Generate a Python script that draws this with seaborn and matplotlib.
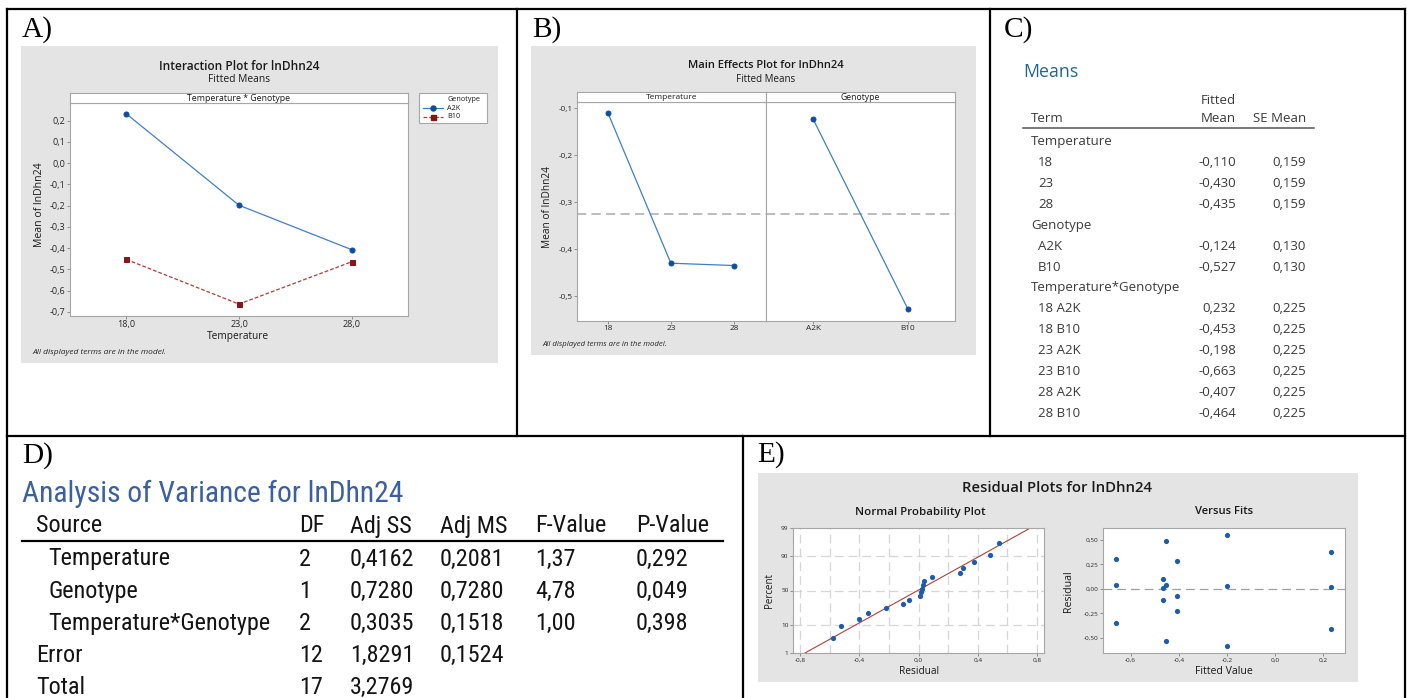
import numpy as np
import pandas as pd
import matplotlib
matplotlib.use("Agg")
import matplotlib.pyplot as plt
import seaborn as sns
from matplotlib import font_manager
from matplotlib.lines import Line2D
from matplotlib.patches import Rectangle
from matplotlib.ticker import FixedLocator, FuncFormatter

# ---------------- data ----------------
temp_levels = ["18", "23", "28"]
temp_fitted_mean = [-0.110, -0.430, -0.435]
temp_se_mean = [0.159, 0.159, 0.159]

geno_levels = ["A2K", "B10"]
geno_fitted_mean = [-0.124, -0.527]
geno_se_mean = [0.130, 0.130]

inter_terms = ["18 A2K", "18 B10", "23 A2K", "23 B10", "28 A2K", "28 B10"]
inter_fitted_mean = [0.232, -0.453, -0.198, -0.663, -0.407, -0.464]
inter_se_mean = [0.225, 0.225, 0.225, 0.225, 0.225, 0.225]

grand_mean = -0.325

anova_source = ["Temperature", "Genotype", "Temperature*Genotype", "Error", "Total"]
anova_indent = [True, True, True, False, False]
anova_df = [2, 1, 2, 12, 17]
anova_adj_ss = [0.4162, 0.7280, 0.3035, 1.8291, 3.2769]
anova_adj_ms = [0.2081, 0.7280, 0.1518, 0.1524, None]
anova_f = [1.37, 4.78, 1.00, None, None]
anova_p = [0.292, 0.049, 0.398, None, None]

fitted_values = [-0.663, -0.663, -0.663, -0.464, -0.464, -0.464,
                 -0.453, -0.453, -0.453, -0.407, -0.407, -0.407,
                 -0.198, -0.198, -0.198, 0.232, 0.232, 0.232]
residuals = [0.310, 0.041, -0.347, 0.099, 0.010, -0.109,
             0.493, 0.038, -0.531, 0.289, -0.068, -0.221,
             0.551, 0.031, -0.585, 0.381, 0.020, -0.405]

npp_residual = [-0.580, -0.520, -0.400, -0.344, -0.218, -0.106, -0.067, 0.009, 0.016,
                0.024, 0.031, 0.038, 0.094, 0.279, 0.303, 0.375, 0.481, 0.546]
npp_percent = [3.8, 9.2, 14.7, 20.1, 25.5, 31.0, 36.4, 41.8, 47.3,
               52.7, 58.2, 63.6, 69.0, 74.5, 79.9, 85.3, 90.8, 96.2]
npp_line_residual = [-0.766, 0.755]
npp_line_percent = [1, 99]

# ---------------- fonts / helpers ----------------
def has_font(name):
    try:
        font_manager.findfont(font_manager.FontProperties(family=name), fallback_to_default=False)
        return True
    except Exception:
        return False


def first_font(names, default):
    for n in names:
        if has_font(n):
            return n
    return default


SANS = first_font(["Open Sans", "Noto Sans"], "DejaVu Sans")
NARROW = first_font(["Roboto Condensed", "Open Sans Condensed", "Noto Sans Condensed",
                     "Liberation Sans Narrow", "Arial Narrow", "DejaVu Sans Condensed"], SANS)
SERIF = first_font(["Liberation Serif"], "DejaVu Serif")
plt.rcParams["font.family"] = [SANS, "DejaVu Sans"]
plt.rcParams["axes.unicode_minus"] = False

W, H = 1407, 698
fig = plt.figure(figsize=(W / 100, H / 100), dpi=100)
fig.patch.set_facecolor("white")
rend = fig.canvas.get_renderer()

GREY = "#E4E4E4"
FRAME = "#A6A6A6"
BLUE_L = "#3F7FC8"
BLUE_D = "#0E4D9F"
RED_L = "#B23A3A"
RED_D = "#8E1414"
PT = "#1E5BAA"


def fx(x):
    return x / W


def fy(y):
    return 1 - y / H


def R(x0, y0, x1, y1):
    return [x0 / W, 1 - y1 / H, (x1 - x0) / W, (y1 - y0) / H]


def size_for(s, w, **kw):
    t = fig.text(0, 0, s, fontsize=10, **kw)
    bb = t.get_window_extent(renderer=rend)
    t.remove()
    return 10 * w / bb.width


def T(x, y, s, ha="left", va="center", **kw):
    return fig.text(fx(x), fy(y), s, ha=ha, va=va, **kw)


def comma(v, nd):
    v = round(v, nd)
    if v == 0:
        v = 0.0
    return f"{v:.{nd}f}".replace(".", ",")


def grey_box(x0, y0, x1, y1, fc=GREY, ec="none", lw=0, z=-5):
    fig.add_artist(Rectangle((fx(x0), fy(y1)), (x1 - x0) / W, (y1 - y0) / H,
                             transform=fig.transFigure, facecolor=fc, edgecolor=ec,
                             linewidth=lw, zorder=z))


def style_axis(ax, size):
    ax.set_facecolor("white")
    ax.tick_params(axis="both", which="both", direction="out", length=2.0, width=0.6,
                   color="#7F7F7F", labelsize=size, labelcolor="#262626", pad=1.2)
    for sp in ax.spines.values():
        sp.set_color(FRAME)
        sp.set_linewidth(0.8)
    ax.set_xlabel("")
    ax.set_ylabel("")


def strip(x0, y0, x1, y1, label, size):
    s = fig.add_axes(R(x0, y0, x1, y1))
    s.set_facecolor("white")
    s.set_xticks([])
    s.set_yticks([])
    for sp in s.spines.values():
        sp.set_color(FRAME)
        sp.set_linewidth(0.8)
    s.text(0.5, 0.45, label, ha="center", va="center", fontsize=size, color="#1A1A1A",
           transform=s.transAxes)
    return s


def border(xs, ys):
    fig.add_artist(Line2D([fx(x) for x in xs], [fy(y) for y in ys], color="black",
                          lw=1.6, solid_capstyle="projecting", zorder=10))


# ---------------- panel borders and letters ----------------
border([6.5, 1405], [9, 9])
border([6.5, 6.5], [9, 698])
border([1405, 1405], [9, 698])
border([6.5, 1405], [436, 436])
border([517, 517], [9, 436])
border([990, 990], [9, 436])
border([743, 743], [436, 698])

let_size = size_for("A)", 31, family=SERIF)
for lx, ly, lab in [(22, 30, "A)"), (532, 30, "B)"), (1004, 30, "C)"),
                    (22, 456, "D)"), (757, 455, "E)")]:
    T(lx, ly, lab, family=SERIF, fontsize=let_size, color="black")

# ---------------- Panel A: interaction plot ----------------
grey_box(21, 46, 498, 363)
T(239, 67, "Interaction Plot for lnDhn24", ha="center", weight="semibold",
  fontsize=size_for("Interaction Plot for lnDhn24", 160, weight="semibold"), color="#1A1A1A")
T(239, 80, "Fitted Means", ha="center",
  fontsize=size_for("Fitted Means", 62), color="#1A1A1A")

rows = []
for term, m in zip(inter_terms, inter_fitted_mean):
    t, g = term.split()
    rows.append({"Temperature": float(t), "Genotype": g, "Mean": m})
df_int = pd.DataFrame(rows)

axA = fig.add_axes(R(70, 103, 408, 316))
line_styles = {
    "A2K": dict(color=BLUE_L, marker="o", mfc=BLUE_D, mec=BLUE_D, linestyle="-"),
    "B10": dict(color=RED_L, marker="s", mfc=RED_D, mec=RED_D, linestyle=(0, (3, 1.6))),
}
for g in geno_levels:
    sub = df_int[df_int["Genotype"] == g]
    sns.lineplot(data=sub, x="Temperature", y="Mean", ax=axA, markersize=3.6,
                 linewidth=0.9, legend=False, **line_styles[g])
axA.set_xlim(15.5, 30.5)
axA.set_ylim(-0.719, 0.283)
axA.xaxis.set_major_locator(FixedLocator([18, 23, 28]))
axA.xaxis.set_major_formatter(FuncFormatter(lambda v, p: comma(v, 1)))
axA.yaxis.set_major_locator(FixedLocator([-0.7, -0.6, -0.5, -0.4, -0.3, -0.2, -0.1, 0.0, 0.1, 0.2]))
axA.yaxis.set_major_formatter(FuncFormatter(lambda v, p: comma(v, 1)))
tickA = size_for("-0,7", 15.5)
style_axis(axA, tickA)
strip(70, 93, 408, 103, "Temperature * Genotype", size_for("Temperature * Genotype", 103))
T(238, 337, "Temperature", ha="center", fontsize=size_for("Temperature", 62), color="#1A1A1A")
yl_size = size_for("Mean of lnDhn24", 84)
T(39, 205, "Mean of lnDhn24", ha="center", rotation=90, fontsize=yl_size, color="#1A1A1A")
T(32, 352, "All displayed terms are in the model.", style="italic",
  fontsize=size_for("All displayed terms are in the model.", 135, style="italic"), color="#262626")

# legend
grey_box(419, 93, 487, 123, fc="white", ec=FRAME, lw=0.8, z=5)
leg_size = size_for("Genotype", 33)
T(447, 99.5, "Genotype", fontsize=leg_size, color="#1A1A1A", zorder=6)
for ly, g in [(108, "A2K"), (116.5, "B10")]:
    st = line_styles[g]
    fig.add_artist(Line2D([fx(423), fx(433), fx(443)], [fy(ly)] * 3, color=st["color"],
                          linestyle=st["linestyle"], lw=0.9, marker=st["marker"], markevery=[1],
                          ms=3.6, mfc=st["mfc"], mec=st["mec"], zorder=6))
    T(447, ly, g, fontsize=leg_size, color="#1A1A1A", zorder=6)

# ---------------- Panel B: main effects ----------------
grey_box(531, 46, 976, 355)
T(766, 66, "Main Effects Plot for lnDhn24", ha="center", weight="semibold",
  fontsize=size_for("Main Effects Plot for lnDhn24", 156, weight="semibold"), color="#1A1A1A")
T(766, 79, "Fitted Means", ha="center", fontsize=size_for("Fitted Means", 59), color="#1A1A1A")

axB1 = fig.add_axes(R(577, 102, 766, 321))
axB2 = fig.add_axes(R(766, 102, 955, 321))
sns.pointplot(x=temp_levels, y=temp_fitted_mean, ax=axB1, color=BLUE_L, markersize=3.6,
              linewidth=0.9, errorbar=None)
sns.pointplot(x=geno_levels, y=geno_fitted_mean, ax=axB2, color=BLUE_L, markersize=3.6,
              linewidth=0.9, errorbar=None)
tickB = size_for("A2K", 15)
for ax, xl in [(axB1, (-0.49, 2.51)), (axB2, (-0.5, 1.5))]:
    for ln in ax.lines:
        ln.set_markerfacecolor(BLUE_D)
        ln.set_markeredgecolor(BLUE_D)
    ax.axhline(grand_mean, color="#A9A9A9", lw=1.1, dashes=(6, 3.5), zorder=0)
    ax.set_xlim(*xl)
    ax.set_ylim(-0.553, -0.087)
    style_axis(ax, tickB)
axB1.yaxis.set_major_locator(FixedLocator([-0.5, -0.4, -0.3, -0.2, -0.1]))
axB1.yaxis.set_major_formatter(FuncFormatter(lambda v, p: comma(v, 1)))
axB2.set_yticks([])
strip(577, 92, 766, 102, "Temperature", size_for("Temperature", 51))
strip(766, 92, 955, 102, "Genotype", size_for("Genotype", 39))
T(548, 207, "Mean of lnDhn24", ha="center", rotation=90,
  fontsize=size_for("Mean of lnDhn24", 81), color="#1A1A1A")
T(542, 344, "All displayed terms are in the model.", style="italic",
  fontsize=size_for("All displayed terms are in the model.", 125, style="italic"), color="#262626")

# ---------------- Panel C: means table ----------------
C_COL = "#3A3A3A"
T(1023, 72, "Means", color="#22668F", fontsize=size_for("Means", 55))
c_size = size_for("Temperature*Genotype", 148)
T(1236, 100, "Fitted", ha="right", fontsize=c_size, color=C_COL)
T(1031, 119, "Term", fontsize=c_size, color=C_COL)
T(1236, 119, "Mean", ha="right", fontsize=c_size, color=C_COL)
T(1306, 119, "SE Mean", ha="right", fontsize=c_size, color=C_COL)
fig.add_artist(Line2D([fx(1023), fx(1314)], [fy(128), fy(128)], color="#555555", lw=1.1))

c_rows = [("Temperature", None, None, False)]
c_rows += [(t, m, s, True) for t, m, s in zip(temp_levels, temp_fitted_mean, temp_se_mean)]
c_rows += [("Genotype", None, None, False)]
c_rows += [(t, m, s, True) for t, m, s in zip(geno_levels, geno_fitted_mean, geno_se_mean)]
c_rows += [("Temperature*Genotype", None, None, False)]
c_rows += [(t, m, s, True) for t, m, s in zip(inter_terms, inter_fitted_mean, inter_se_mean)]
for i, (lab, m, s, sub) in enumerate(c_rows):
    y = 142 + i * 20.85
    T(1038 if sub else 1031, y, lab, fontsize=c_size, color=C_COL)
    if m is not None:
        T(1236, y, comma(m, 3), ha="right", fontsize=c_size, color=C_COL)
        T(1306, y, comma(s, 3), ha="right", fontsize=c_size, color=C_COL)

# ---------------- Panel D: ANOVA table ----------------
T(22, 494, "Analysis of Variance for lnDhn24", color="#3A5FA3", family=NARROW,
  fontsize=size_for("Analysis of Variance for lnDhn24", 380, family=NARROW))
d_size = size_for("Temperature*Genotype", 220, family=NARROW)
DK = "#141414"
hdr_y = 526
T(36, hdr_y, "Source", fontsize=d_size, family=NARROW, color=DK)
T(299, hdr_y, "DF", fontsize=d_size, family=NARROW, color=DK)
col_x = [350, 440, 535, 636]
for x, lab in zip(col_x, ["Adj SS", "Adj MS", "F-Value", "P-Value"]):
    T(x, hdr_y, lab, fontsize=d_size, family=NARROW, color=DK)
fig.add_artist(Line2D([fx(22), fx(723)], [fy(541), fy(541)], color="black", lw=1.6))
for i, src in enumerate(anova_source):
    y = 559 + i * 32.2
    T(48 if anova_indent[i] else 36, y, src, fontsize=d_size, family=NARROW, color=DK)
    T(299, y, str(anova_df[i]), fontsize=d_size, family=NARROW, color=DK)
    vals = [anova_adj_ss[i], anova_adj_ms[i], anova_f[i], anova_p[i]]
    for x, v, nd in zip(col_x, vals, [4, 4, 2, 3]):
        if v is not None:
            T(x, y, comma(v, nd), fontsize=d_size, family=NARROW, color=DK)

# ---------------- Panel E: residual plots ----------------
grey_box(758, 473, 1358, 682)
T(1057, 488, "Residual Plots for lnDhn24", ha="center", weight="semibold",
  fontsize=size_for("Residual Plots for lnDhn24", 189, weight="semibold"), color="#1A1A1A")
T(920, 512, "Normal Probability Plot", ha="center", weight="semibold",
  fontsize=size_for("Normal Probability Plot", 129, weight="semibold"), color="#1A1A1A")
T(1224, 512, "Versus Fits", ha="center", weight="semibold",
  fontsize=size_for("Versus Fits", 58, weight="semibold"), color="#1A1A1A")


def _erf(x):
    x = np.asarray(x, dtype=float)
    sgn = np.sign(x)
    a = np.abs(x)
    t = 1.0 / (1.0 + 0.3275911 * a)
    y = 1 - (((((1.061405429 * t - 1.453152027) * t) + 1.421413741) * t - 0.284496736) * t
             + 0.254829592) * t * np.exp(-a * a)
    return sgn * y


def ncdf(z):
    return 0.5 * (1 + _erf(np.asarray(z, dtype=float) / np.sqrt(2)))


def nppf(p):
    p = np.clip(np.asarray(p, dtype=float), 1e-9, 1 - 1e-9)
    lo = np.full(p.shape, -8.0)
    hi = np.full(p.shape, 8.0)
    for _ in range(60):
        mid = 0.5 * (lo + hi)
        below = ncdf(mid) < p
        lo = np.where(below, mid, lo)
        hi = np.where(below, hi, mid)
    return 0.5 * (lo + hi)


axN = fig.add_axes(R(793, 528, 1044, 653))
for gx in [-0.8, -0.6, -0.4, -0.2, 0.0, 0.2, 0.4, 0.6, 0.8]:
    axN.axvline(gx, color="#D6D6D6", lw=0.9, dashes=(7, 4), zorder=0)
sns.lineplot(x=npp_line_residual, y=npp_line_percent, ax=axN, color="#B0403A", lw=0.8,
             zorder=2, legend=False)
sns.scatterplot(x=npp_residual, y=npp_percent, ax=axN, color=PT, s=14, linewidth=0,
                zorder=3, legend=False)
axN.set_yscale("function", functions=(lambda p: nppf(np.asarray(p) / 100.0),
                                      lambda z: ncdf(z) * 100.0))
for gy in [10, 50, 90]:
    axN.axhline(gy, color="#D6D6D6", lw=0.9, dashes=(7, 4), zorder=0)
axN.set_xlim(-0.847, 0.847)
axN.set_ylim(1, 99)
axN.xaxis.set_major_locator(FixedLocator([-0.8, -0.4, 0.0, 0.4, 0.8]))
axN.xaxis.set_major_formatter(FuncFormatter(lambda v, p: comma(v, 1)))
axN.yaxis.set_major_locator(FixedLocator([1, 10, 50, 90, 99]))
axN.yaxis.set_major_formatter(FuncFormatter(lambda v, p: f"{v:.0f}"))
axN.yaxis.set_minor_locator(FixedLocator([]))
tickE = size_for("-0,8", 11)
style_axis(axN, tickE)

axV = fig.add_axes(R(1103, 528, 1345, 653))
axV.axhline(0, color="#A0A0A0", lw=0.9, dashes=(7, 4), zorder=0)
sns.scatterplot(x=fitted_values, y=residuals, ax=axV, color=PT, s=14, linewidth=0,
                zorder=3, legend=False)
axV.set_xlim(-0.715, 0.29)
axV.set_ylim(-0.653, 0.622)
axV.xaxis.set_major_locator(FixedLocator([-0.6, -0.4, -0.2, 0.0, 0.2]))
axV.xaxis.set_major_formatter(FuncFormatter(lambda v, p: comma(v, 1)))
axV.yaxis.set_major_locator(FixedLocator([-0.5, -0.25, 0.0, 0.25, 0.5]))
axV.yaxis.set_major_formatter(FuncFormatter(lambda v, p: comma(v, 2)))
style_axis(axV, tickE)

T(919, 672, "Residual", ha="center", fontsize=size_for("Residual", 40), color="#1A1A1A")
T(1224, 672, "Fitted Value", ha="center", fontsize=size_for("Fitted Value", 58), color="#1A1A1A")
T(770, 591, "Percent", ha="center", rotation=90, fontsize=size_for("Percent", 35), color="#1A1A1A")
T(1069, 591, "Residual", ha="center", rotation=90, fontsize=size_for("Residual", 42), color="#1A1A1A")

fig.savefig("out.png", dpi=100, facecolor="white")
